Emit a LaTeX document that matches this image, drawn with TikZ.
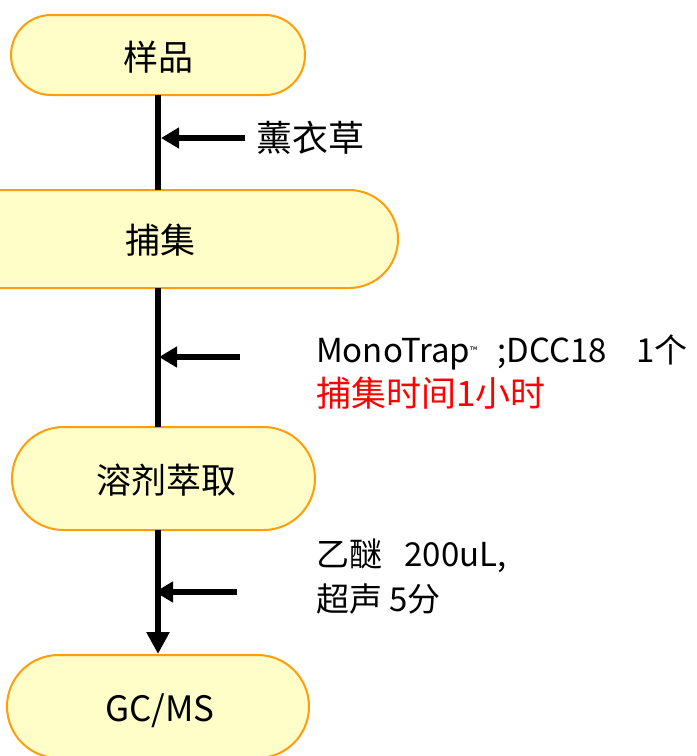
\documentclass[tikz,border=0pt]{standalone}
\usepackage{fontspec}
\setmainfont{Noto Sans CJK SC}
\usetikzlibrary{shapes.misc,arrows.meta}
\definecolor{boxfill}{HTML}{FFFDC8}
\definecolor{boxline}{HTML}{FF9D0A}
\definecolor{redtxt}{HTML}{FF0000}
\tikzset{
  stepbox/.style={rounded rectangle, draw=boxline, fill=boxfill, line width=2pt, inner sep=0pt},
  boxtext/.style={font=\fontsize{35}{35}\selectfont, inner sep=0pt},
  sidetext/.style={font=\fontsize{33}{33}\selectfont, inner sep=0pt, anchor=base west},
  flow/.style={line width=6.5pt},
  side/.style={line width=6.5pt, -{Triangle[length=18pt,width=20pt]}},
}
\begin{document}
\begin{tikzpicture}[x=1pt,y=-1pt]
\useasboundingbox (0,0) rectangle (697,756);
% boxes
\node[stepbox, minimum width=294pt, minimum height=80pt] (b1) at (158,55) {};
\node[stepbox, minimum width=480pt, minimum height=98pt] (b2) at (158,239) {};
\node[stepbox, minimum width=303pt, minimum height=103pt] (b3) at (163.5,478.5) {};
\node[stepbox, minimum width=302pt, minimum height=103pt] (b4) at (158,706.5) {};
% box texts
\node[boxtext] (t1) at (158,57) {样品};
\node[boxtext] (t2) at (160,240) {捕集};
\node[boxtext] (t3) at (166,480) {溶剂萃取};
\node[boxtext] (t4) at (160,711) {GC/MS};
% main flow
\coordinate (v1a) at (158,95);
\coordinate (v1b) at (158,190);
\coordinate (v2a) at (158,288);
\coordinate (v2b) at (158,427);
\coordinate (v3a) at (158,530);
\coordinate (v3b) at (158,654);
\draw[flow] (v1a) -- (v1b);
\draw[flow] (v2a) -- (v2b);
\draw[flow, -{Triangle[length=22pt,width=22pt]}] (v3a) -- (v3b);
% side arrows
\coordinate (s1a) at (245,138);
\coordinate (s1b) at (161,138);
\coordinate (s2a) at (240,357);
\coordinate (s2b) at (159,357);
\coordinate (s3a) at (237,592);
\coordinate (s3b) at (155,592);
\draw[side] (s1a) -- (s1b);
\draw[side] (s2a) -- (s2b);
\draw[side] (s3a) -- (s3b);
% labels
\node[font=\fontsize{36}{36}\selectfont, inner sep=0pt, anchor=west] (l1) at (256,138) {薰衣草};
\node[sidetext] (l2a) at (316,362) {MonoTrap\raisebox{8pt}{\fontsize{10}{10}\selectfont ™}\hspace{20pt};DCC18\hspace{30pt}1个};
\node[sidetext, text=redtxt, font=\fontsize{35}{35}\selectfont] (l2b) at (316,406) {捕集时间1小时};
\node[sidetext] (l3a) at (316,566) {乙醚\ \ \ 200uL,};
\node[sidetext] (l3b) at (316,611) {超声\ 5分};
\end{tikzpicture}
\end{document}
